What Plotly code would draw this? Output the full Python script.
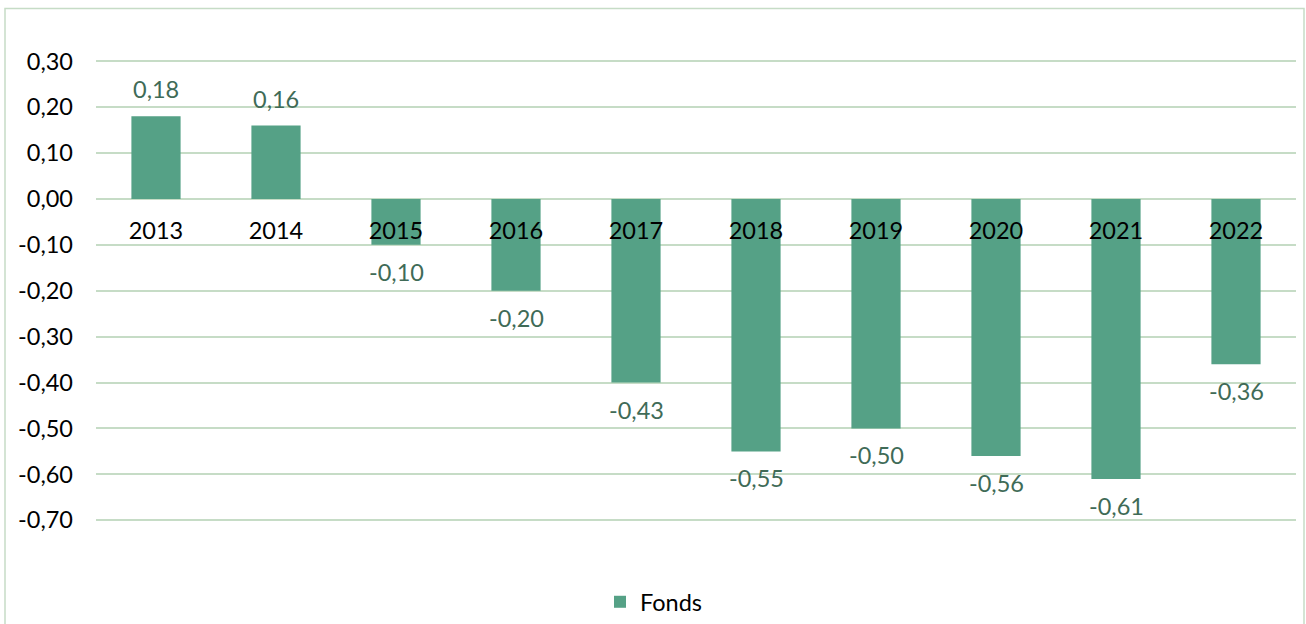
import plotly.graph_objects as go

years = ["2013", "2014", "2015", "2016", "2017", "2018", "2019", "2020", "2021", "2022"]
values = [0.18, 0.16, -0.10, -0.20, -0.40, -0.55, -0.50, -0.56, -0.61, -0.36]
labels = ["0,18", "0,16", "-0,10", "-0,20", "-0,43", "-0,55", "-0,50", "-0,56", "-0,61", "-0,36"]
y_ticks = [0.30, 0.20, 0.10, 0.00, -0.10, -0.20, -0.30, -0.40, -0.50, -0.60, -0.70]
y_tick_text = ["0,30", "0,20", "0,10", "0,00", "-0,10", "-0,20", "-0,30", "-0,40", "-0,50", "-0,60", "-0,70"]

bar_color = "#55a186"
grid_color = "#c6dcc6"
label_color = "#3f6b57"
font_family = "Lato"
fsize = 23.5

idx = list(range(len(years)))

W, H = 1306, 624
y_lo, y_hi = -0.705, 0.305
px_per_unit = 460.0
plot_h = (y_hi - y_lo) * px_per_unit
top_px = 61 - (y_hi - 0.30) * px_per_unit
plot_bottom = top_px + plot_h
paper_h = H - top_px
dom_lo = (H - plot_bottom) / paper_h


def py(pixel_y):
    # pixel row -> paper fraction (paper spans top_px..H)
    return (H - pixel_y) / paper_h


fig = go.Figure()
fig.add_trace(go.Bar(
    x=idx, y=values, name="Fonds",
    marker=dict(color=bar_color, line=dict(width=0)),
    width=0.41,
))

for i, v, lab in zip(idx, values, labels):
    fig.add_annotation(
        x=i, y=v, text=lab, showarrow=False,
        yshift=27 if v >= 0 else -27,
        font=dict(family=font_family, size=fsize, color=label_color),
        xref="x", yref="y",
    )

fig.update_layout(
    width=W, height=H,
    margin=dict(l=96, r=10, t=top_px, b=0),
    paper_bgcolor="white", plot_bgcolor="white",
    font=dict(family=font_family, size=fsize, color="#000000"),
    showlegend=True,
    legend=dict(orientation="h", x=0.465, xanchor="center",
                y=py(603), yanchor="middle",
                font=dict(family=font_family, size=fsize, color="#000000"),
                itemwidth=30, tracegroupgap=0),
    xaxis=dict(
        range=[-0.5, len(years) - 0.5], tickvals=idx, ticktext=years,
        anchor="free", position=dom_lo + (1 - dom_lo) * (0 - y_lo) / (y_hi - y_lo),
        showline=False, ticks="", automargin=False,
        showgrid=False, zeroline=False,
        tickfont=dict(family=font_family, size=fsize, color="#000000"),
        ticklabelstandoff=16, layer="above traces",
    ),
    yaxis=dict(
        domain=[dom_lo, 1], automargin=False,
        range=[y_lo, y_hi], tickvals=y_ticks, ticktext=y_tick_text,
        showgrid=True, gridcolor=grid_color, gridwidth=1.5,
        zeroline=False, showline=False, ticks="",
        ticklabelstandoff=22,
        tickfont=dict(family=font_family, size=fsize, color="#000000"),
    ),
    shapes=[dict(
        type="rect", xref="paper", yref="paper",
        x0=(5 - 96) / 1200, x1=(1304 - 96) / 1200,
        y0=py(640), y1=py(8),
        line=dict(color=grid_color, width=1.5), fillcolor="rgba(0,0,0,0)",
        layer="below",
    )],
)

fig.write_html("out.html", config={"displayModeBar": False},
               post_script="document.body.style.margin='0px';")
